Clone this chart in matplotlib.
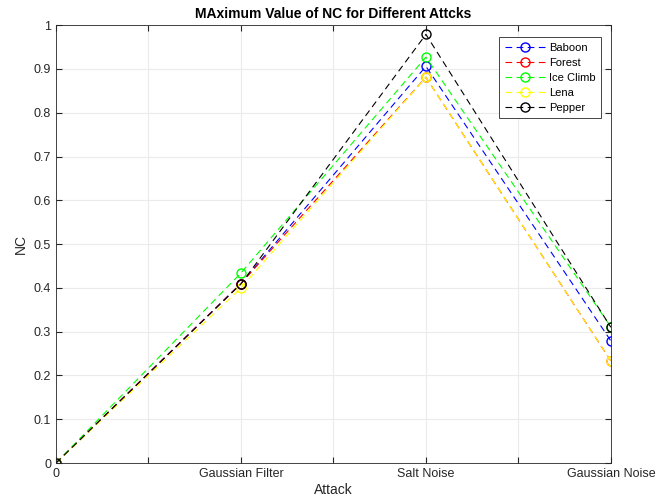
import matplotlib
matplotlib.use("Agg")
import matplotlib.pyplot as plt
import numpy as np

plt.rcParams['font.family'] = ['Liberation Sans', 'DejaVu Sans']

x = [0, 1, 2, 3]
xtick_pos = [0, 0.5, 1, 1.5, 2, 2.5, 3]
xtick_labels = ['0', '', 'Gaussian Filter', '', 'Salt Noise', '', 'Gaussian Noise']
baboon = [0, 0.41, 0.906, 0.279]
forest = [0, 0.41, 0.881, 0.233]
iceclimb = [0, 0.434, 0.927, 0.311]
lena = [0, 0.40, 0.881, 0.233]
pepper = [0, 0.409, 0.979, 0.31]
names = ['Baboon', 'Forest', 'Ice Climb', 'Lena', 'Pepper']
colors = ['#0000ff', '#ff0000', '#00ff00', '#ffff00', '#000000']

fig = plt.figure(figsize=(6.64, 5.04), dpi=100)
ax = fig.add_axes([0.0843, 0.0813, 0.8357, 0.8687])
for ys, n, c in zip([baboon, forest, iceclimb, lena, pepper], names, colors):
    ax.plot(x, ys, linestyle=(0, (6, 4)), color=c, marker='o', markerfacecolor='none',
            markeredgecolor=c, markersize=6.5, linewidth=0.8, label=n)

ax.set_xlim(0, 3)
ax.set_ylim(0, 1)
ax.set_xticks(xtick_pos)
ax.set_xticklabels(xtick_labels, fontsize=9)
ax.set_yticks(np.arange(0, 1.01, 0.1))
ax.set_yticklabels(['0', '0.1', '0.2', '0.3', '0.4', '0.5', '0.6', '0.7', '0.8', '0.9', '1'], fontsize=9)
ax.tick_params(direction='in', length=4, top=True, right=True, colors='#262626', labelcolor='#262626')
ax.grid(True, color='#ebebeb', linewidth=0.8)
for s in ax.spines.values():
    s.set_color('#262626')
    s.set_linewidth(0.6)
ax.set_xlabel('Attack', fontsize=10, color='#262626', labelpad=2)
ax.set_ylabel('NC', fontsize=10, color='#262626')
ax.set_title('MAximum Value of NC for Different Attcks', fontsize=10, fontweight='bold', color='black', pad=5)
leg = ax.legend(loc='upper right', fontsize=8, fancybox=False, framealpha=1,
                edgecolor='#262626', bbox_to_anchor=(0.993, 0.985), handlelength=3.6,
                handletextpad=0.4, borderpad=0.5, labelspacing=0.45)
leg.get_frame().set_linewidth(0.6)
fig.savefig('out.png', dpi=100)
